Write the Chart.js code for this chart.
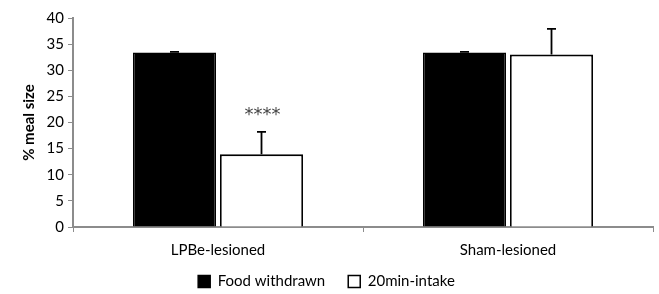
<!DOCTYPE html>
<html>
<head>
<meta charset="utf-8">
<script src="https://cdn.jsdelivr.net/npm/chart.js@4"></script>
<style>
  html, body { margin: 0; padding: 0; background: #fff; }
  #wrap { width: 659px; height: 294px; }
</style>
</head>
<body>
<div id="wrap"><canvas id="chart"></canvas></div>
<script>
// values
const groups = ['LPBe-lesioned', 'Sham-lesioned'];
const seriesNames = ['Food withdrawn', '20min-intake'];
const foodWithdrawn = [33.4, 33.4];
const foodWithdrawnErr = [0.1, 0.1];
const intake20 = [13.9, 33.0];
const intake20Err = [4.3, 4.9];
const intake20Marks = ['****', ''];
const yTicks = [0, 5, 10, 15, 20, 25, 30, 35, 40];

const FONT = 'Lato, "Open Sans", sans-serif';
const AXIS = '#8c8c8c';

// error bars + significance stars drawn on top of the bars
const errorBars = {
  id: 'errorBars',
  afterDatasetsDraw(chart) {
    const ctx = chart.ctx;
    const y = chart.scales.y;
    const errs = [foodWithdrawnErr, intake20Err];
    chart.data.datasets.forEach((ds, di) => {
      const meta = chart.getDatasetMeta(di);
      meta.data.forEach((bar, i) => {
        const top = y.getPixelForValue(ds.data[i] + errs[di][i]);
        ctx.save();
        ctx.strokeStyle = '#000';
        ctx.lineWidth = 1.8;
        ctx.beginPath();
        ctx.moveTo(bar.x, bar.y);
        ctx.lineTo(bar.x, top);
        ctx.moveTo(bar.x - 4.5, top);
        ctx.lineTo(bar.x + 4.5, top);
        ctx.stroke();
        if (di === 1 && intake20Marks[i]) {
          ctx.fillStyle = '#444';
          ctx.font = '18px "DejaVu Sans", sans-serif';
          ctx.textAlign = 'center';
          ctx.textBaseline = 'middle';
          ctx.fillText(intake20Marks[i], bar.x + 1, top - 17);
        }
        ctx.restore();
      });
    });
  }
};

new Chart(document.getElementById('chart'), {
  type: 'bar',
  data: {
    labels: groups,
    datasets: [
      {
        label: seriesNames[0],
        data: foodWithdrawn,
        backgroundColor: '#000',
        borderColor: '#000',
        borderWidth: 1.5,
        categoryPercentage: 0.6,
        barPercentage: 0.955
      },
      {
        label: seriesNames[1],
        data: intake20,
        backgroundColor: '#fff',
        borderColor: '#000',
        borderWidth: 1.8,
        categoryPercentage: 0.6,
        barPercentage: 0.955
      }
    ]
  },
  options: {
    responsive: true,
    maintainAspectRatio: false,
    animation: false,
    layout: { padding: { top: 18, right: 6, left: 0, bottom: -5 } },
    plugins: {
      tooltip: { enabled: false },
      legend: {
        position: 'bottom',
        labels: {
          color: '#000',
          font: { family: FONT, size: 15 },
          boxWidth: 12,
          boxHeight: 12,
          padding: 0,
          // trailing spaces widen the gap between the two legend entries
          generateLabels: (chart) => chart.data.datasets.map((ds, i) => ({
            text: i === 0 ? ds.label + '      ' : ds.label,
            fillStyle: ds.backgroundColor,
            strokeStyle: '#000',
            lineWidth: 1.5,
            datasetIndex: i
          }))
        }
      }
    },
    scales: {
      x: {
        grid: { drawOnChartArea: false, drawTicks: true, tickLength: 5, color: AXIS, offset: true },
        border: { color: AXIS, width: 2 },
        ticks: { color: '#000', font: { family: FONT, size: 15 }, padding: 9 },
        afterFit: (scale) => { scale.height = 47; }
      },
      y: {
        min: 0,
        max: 40,
        afterBuildTicks: (scale) => { scale.ticks = yTicks.map(v => ({ value: v })); },
        grid: { drawOnChartArea: false, drawTicks: true, tickLength: 5, color: AXIS },
        border: { color: AXIS, width: 2 },
        ticks: { color: '#000', font: { family: FONT, size: 15 }, padding: 4 },
        title: {
          display: true,
          text: '% meal size',
          color: '#000',
          padding: { top: 20, bottom: 4 },
          font: { family: FONT, size: 15, weight: 'bold' }
        },
        afterFit: (scale) => { scale.width = 73; }
      }
    }
  },
  plugins: [errorBars]
});
</script>
</body>
</html>
